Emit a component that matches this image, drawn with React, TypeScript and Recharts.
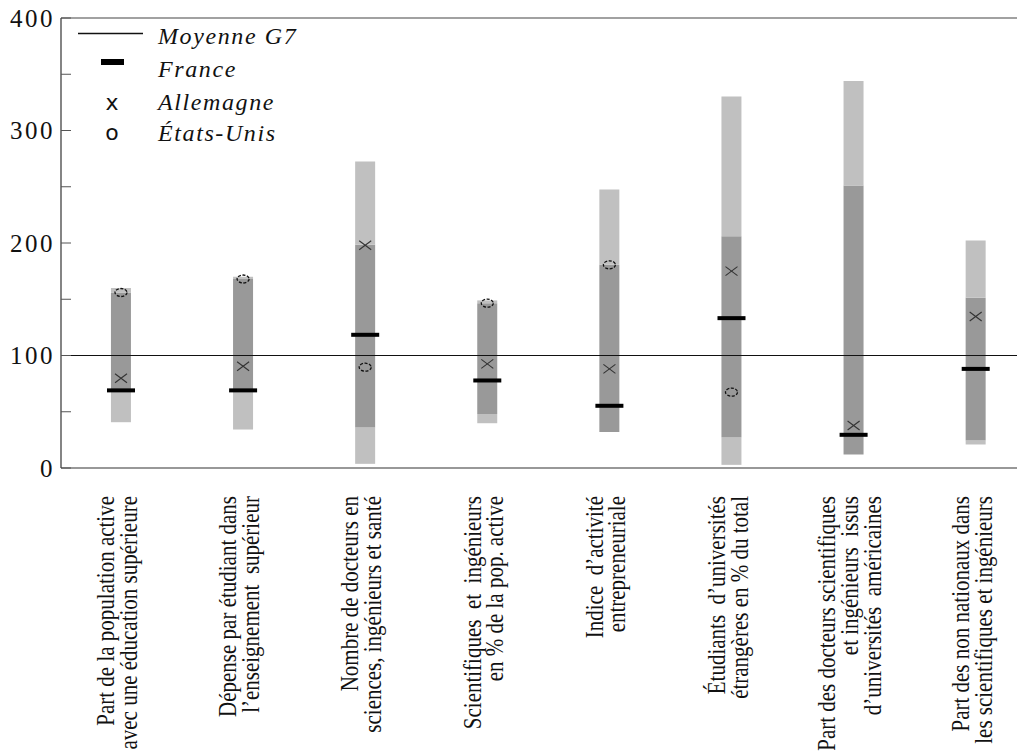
import React from "react";
import {
  ComposedChart,
  Bar,
  Scatter,
  XAxis,
  YAxis,
  ReferenceLine,
  Legend,
} from "recharts";

// ---- data ----
const categoryLines: string[][] = [
  ["Part de la population active", "avec une éducation supérieure"],
  ["Dépense par étudiant dans", "l’enseignement  supérieur"],
  ["Nombre de docteurs en", "sciences, ingénieurs et santé"],
  ["Scientifiques  et  ingénieurs", "en % de la pop. active"],
  ["Indice  d’activité", "entrepreneuriale"],
  ["Étudiants  d’universités", "étrangères en % du total"],
  ["Part des docteurs scientifiques", "et ingénieurs  issus", "d’universités  américaines"],
  ["Part des non nationaux dans", "les scientifiques et ingénieurs"],
];
const lightLow = [40.7, 34.2, 3.7, 39.8, 31.9, 2.8, 12, 20.9];
const darkLow = [69, 69, 36.3, 48.1, 31.9, 27.4, 12, 24.4];
const darkHigh = [156, 168, 198.4, 146.5, 180.6, 206.1, 251.1, 151.3];
const lightHigh = [160, 170, 272.4, 149, 247.6, 330.2, 343.9, 202.2];
const france = [69, 69, 118.4, 77.8, 55.3, 133.2, 29.5, 88.1];
const allemagne = [79.8, 90.5, 198, 92.6, 88.1, 175, 37.8, 134.7];
const etatsUnis: (number | null)[] = [156, 168, 89.6, 146.5, 180.6, 67.4, null, null];
const g7Average = 100;
const yTicks = [0, 50, 100, 150, 200, 250, 300, 350, 400];

const LIGHT = "#c0c0c0";
const DARK = "#999999";
const SERIF = "Liberation Serif";

const data = categoryLines.map((_, i) => ({
  idx: i,
  base: lightLow[i],
  lightBottom: darkLow[i] - lightLow[i],
  dark: darkHigh[i] - darkLow[i],
  lightTop: lightHigh[i] - darkHigh[i],
  france: france[i],
  allemagne: allemagne[i],
  usa: etatsUnis[i],
}));

const ok = (v: any) => typeof v === "number" && isFinite(v);

const FranceShape = (p: any) => {
  if (!ok(p.cx) || !ok(p.cy)) return <g />;
  return <rect x={p.cx - 14} y={p.cy - 2} width={28} height={4} fill="#000" />;
};
const CrossShape = (p: any) => {
  if (!ok(p.cx) || !ok(p.cy)) return <g />;
  const { cx, cy } = p;
  return (
    <g stroke="#333" strokeWidth={1.1}>
      <line x1={cx - 6} y1={cy - 4.5} x2={cx + 6} y2={cy + 4.5} />
      <line x1={cx - 6} y1={cy + 4.5} x2={cx + 6} y2={cy - 4.5} />
    </g>
  );
};
const CircleShape = (p: any) => {
  if (!ok(p.cx) || !ok(p.cy) || p.payload?.usa == null) return <g />;
  return (
    <ellipse
      cx={p.cx}
      cy={p.cy}
      rx={6}
      ry={4}
      fill="none"
      stroke="#111"
      strokeWidth={1.3}
      strokeDasharray="3 1.5"
    />
  );
};

const YTick = (p: any) => {
  const { x, y, payload } = p;
  const v = payload.value;
  return (
    <g>
      <line x1={x} y1={y} x2={x + 10} y2={y} stroke="#555" strokeWidth={1} />
      {v % 100 === 0 && (
        <text
          x={x - 6}
          y={y}
          dy="0.35em"
          textAnchor="end"
          fill="#111"
          style={{ fontFamily: SERIF, fontSize: 25, letterSpacing: 2.5 }}
        >
          {v}
        </text>
      )}
    </g>
  );
};

const XTick = (p: any) => {
  const { x, y, payload } = p;
  const lines = categoryLines[payload.value] || [];
  const n = lines.length;
  return (
    <g transform={`translate(${x - 4},${y + 28}) scale(1.2,1) rotate(-90)`}>
      {lines.map((t, i) => (
        <text
          key={i}
          x={0}
          y={(i - (n - 1) / 2) * 19}
          dominantBaseline="central"
          textAnchor="end"
          fill="#111"
          style={{ fontFamily: SERIF, fontSize: 21, whiteSpace: "pre" }}
        >
          {t}
        </text>
      ))}
    </g>
  );
};

const legendStyle: React.CSSProperties = {
  fontFamily: SERIF,
  fontStyle: "italic",
  fontSize: 24,
  letterSpacing: 1.6,
};
const symbolStyle: React.CSSProperties = { fontFamily: "DejaVu Sans", fontSize: 22 };

// legend drawn in chart-relative coordinates (chart top-left at page x=8, y=0)
const LegendContent = () => (
  <svg width={330} height={160} style={{ display: "block" }}>
    <line x1={70} y1={33.5} x2={135} y2={33.5} stroke="#111" strokeWidth={1.5} />
    <text x={150} y={44} fill="#111" style={legendStyle}>Moyenne G7</text>
    <rect x={93} y={59} width={23} height={6} fill="#000" />
    <text x={150} y={77} fill="#111" style={legendStyle}>France</text>
    <text x={104} y={110} textAnchor="middle" fill="#111" style={symbolStyle}>x</text>
    <text x={150} y={110} fill="#111" style={legendStyle}>Allemagne</text>
    <text x={104} y={140} textAnchor="middle" fill="#111" style={symbolStyle}>o</text>
    <text x={150} y={141} fill="#111" style={legendStyle}>États-Unis</text>
  </svg>
);

export default function App() {
  return (
    <div style={{ width: 1017, height: 754, marginTop: -8 }}>
      <ComposedChart
        width={1017}
        height={754}
        data={data}
        margin={{ top: 18, right: 0, bottom: 0, left: 0 }}
      >
        <XAxis
          type="number"
          dataKey="idx"
          domain={[-0.4914, 7.4038]}
          allowDataOverflow
          ticks={[0, 1, 2, 3, 4, 5, 6, 7]}
          interval={0}
          height={286}
          tickLine={false}
          tickSize={0}
          tickMargin={0}
          axisLine={{ stroke: "#333", strokeWidth: 1.2 }}
          tick={<XTick />}
        />
        <YAxis
          type="number"
          domain={[0, 400]}
          ticks={yTicks}
          interval={0}
          width={53}
          tickLine={false}
          tickSize={0}
          tickMargin={0}
          axisLine={{ stroke: "#333", strokeWidth: 1.2 }}
          tick={<YTick />}
        />
        <Legend
          layout="vertical"
          align="center"
          verticalAlign="middle"
          wrapperStyle={{ top: 0, left: 0, width: 330, height: 160 }}
          content={<LegendContent />}
        />
        <ReferenceLine y={400} stroke="#444" strokeWidth={1.2} />
        <Bar dataKey="base" stackId="s" fill="transparent" barSize={20} isAnimationActive={false} legendType="none" />
        <Bar dataKey="lightBottom" stackId="s" fill={LIGHT} barSize={20} isAnimationActive={false} legendType="none" />
        <Bar dataKey="dark" stackId="s" fill={DARK} barSize={20} isAnimationActive={false} legendType="none" />
        <Bar dataKey="lightTop" stackId="s" fill={LIGHT} barSize={20} isAnimationActive={false} legendType="none" />
        <ReferenceLine y={g7Average} stroke="#111" strokeWidth={1.2} />
        <Scatter dataKey="france" shape={<FranceShape />} isAnimationActive={false} />
        <Scatter dataKey="allemagne" shape={<CrossShape />} isAnimationActive={false} />
        <Scatter dataKey="usa" shape={<CircleShape />} isAnimationActive={false} />
      </ComposedChart>
    </div>
  );
}
